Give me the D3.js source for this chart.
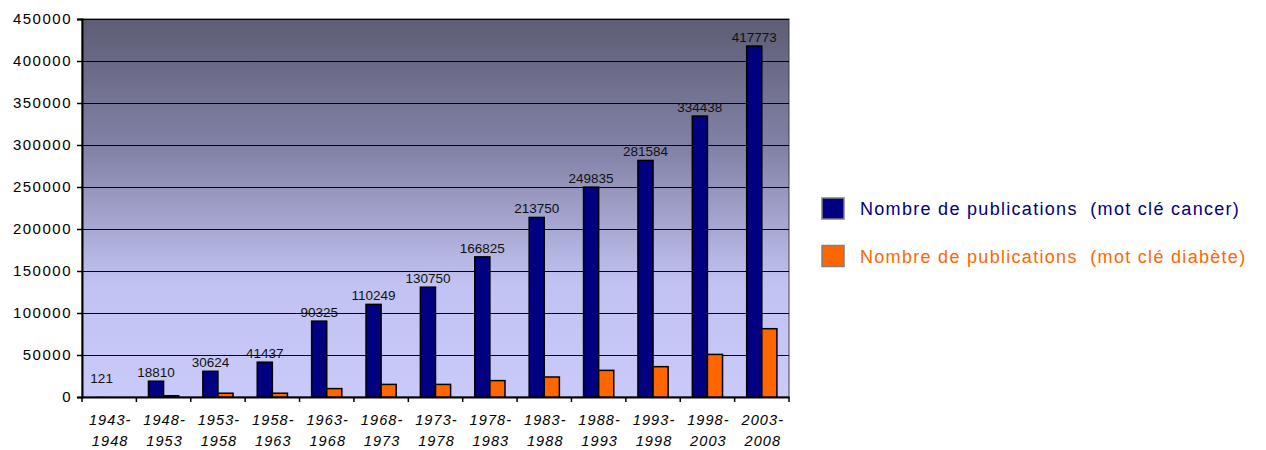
<!DOCTYPE html>
<html>
<head>
<meta charset="utf-8">
<script src="https://cdn.jsdelivr.net/npm/d3@7"></script>
<style>
  body { margin: 0; background: #fff; }
  svg { display: block; font-family: "Liberation Sans", Arial, sans-serif; }
</style>
</head>
<body>
<div id="chart"></div>
<script>
// periods (two lines each)
var periodsTop = ["1943-", "1948-", "1953-", "1958-", "1963-", "1968-", "1973-", "1978-", "1983-", "1988-", "1993-", "1998-", "2003-"];
var periodsBottom = ["1948", "1953", "1958", "1963", "1968", "1973", "1978", "1983", "1988", "1993", "1998", "2003", "2008"];

// publications with keyword "cancer"
var cancer = [121, 18810, 30624, 41437, 90325, 110249, 130750, 166825, 213750, 249835, 281584, 334438, 417773];
// publications with keyword "diabète"
var diabete = [0, 1500, 4500, 4500, 10000, 15000, 15000, 19500, 23800, 31700, 36100, 50700, 81300];

var yTicks = [0, 50000, 100000, 150000, 200000, 250000, 300000, 350000, 400000, 450000];

var seriesNames = ["Nombre de publications  (mot clé cancer)", "Nombre de publications  (mot clé diabète)"];
var seriesColors = ["#000080", "#ff6600"];
var seriesText = ["#000080", "#ff6600"];

var width = 1266;
var height = 450;
var margin = { left: 82, top: 19 };
var inner_width = 707;
var inner_height = 378;

var svg = d3.select("#chart")
  .append("svg")
  .attr("width", width)
  .attr("height", height);

// background gradient
var defs = svg.append("defs");
var grad = defs.append("linearGradient")
  .attr("id", "bg")
  .attr("x1", 0).attr("y1", 0)
  .attr("x2", 0).attr("y2", 1);
grad.append("stop").attr("offset", "0%").attr("stop-color", "#5d5d75");
grad.append("stop").attr("offset", "35%").attr("stop-color", "#8383a8");
grad.append("stop").attr("offset", "70%").attr("stop-color", "#c2c2f2");
grad.append("stop").attr("offset", "100%").attr("stop-color", "#cacafa");

var g = svg.append("g")
  .attr("transform", "translate(" + margin.left + "," + margin.top + ")");

var idx = d3.range(cancer.length);

var xscale = d3.scaleBand().domain(idx).range([0, inner_width]).padding(0);
var x1 = d3.scaleBand().domain([0, 1]).range([0, xscale.bandwidth()]).paddingInner(0).paddingOuter(0.8);
var yscale = d3.scaleLinear().domain([0, 450000]).range([inner_height, 0]);

// plot area
g.append("rect")
  .attr("x", 0)
  .attr("y", 0)
  .attr("width", inner_width)
  .attr("height", inner_height)
  .attr("fill", "url(#bg)")
  .attr("stroke", "#404040")
  .attr("stroke-width", 1);

// gridlines
g.selectAll(".grid")
  .data(yTicks.filter(function (d) { return d > 0; }))
  .enter()
  .append("line")
  .attr("x1", 0)
  .attr("x2", inner_width)
  .attr("y1", function (d) { return Math.round(yscale(d)) + 0.5; })
  .attr("y2", function (d) { return Math.round(yscale(d)) + 0.5; })
  .attr("stroke", "#000")
  .attr("stroke-width", 1);

// y axis
var yaxis = d3.axisLeft(yscale).tickValues(yTicks).tickSize(5).tickPadding(7).tickFormat(d3.format("d"));
var gy = g.append("g").call(yaxis);
gy.select(".domain").attr("stroke", "#000").attr("stroke-width", 2);
gy.selectAll(".tick line").attr("stroke", "#000").attr("stroke-width", 1.5);
gy.selectAll(".tick text")
  .attr("x", -10)
  .style("font-size", "15px")
  .style("letter-spacing", "1.5px")
  .attr("fill", "#000");

// x axis
var xaxis = d3.axisBottom(xscale).tickValues([]).tickSize(0);
var gx = g.append("g")
  .attr("transform", "translate(0," + inner_height + ")")
  .call(xaxis);
gx.select(".domain").attr("stroke", "#000").attr("stroke-width", 2);

// tick marks between categories
gx.selectAll(".sep")
  .data(d3.range(cancer.length + 1))
  .enter()
  .append("line")
  .attr("x1", function (d) { return d * xscale.step(); })
  .attr("x2", function (d) { return d * xscale.step(); })
  .attr("y1", 0)
  .attr("y2", 5)
  .attr("stroke", "#000")
  .attr("stroke-width", 1.5);

// category labels
var xl = gx.selectAll(".xlab")
  .data(idx)
  .enter()
  .append("text")
  .attr("text-anchor", "middle")
  .style("font-size", "14.5px")
  .style("font-style", "italic")
  .style("letter-spacing", "1.1px")
  .attr("fill", "#000");
xl.append("tspan")
  .attr("x", function (d) { return xscale(d) + xscale.bandwidth() / 2 + 1; })
  .attr("y", 28)
  .text(function (d) { return periodsTop[d]; });
xl.append("tspan")
  .attr("x", function (d) { return xscale(d) + xscale.bandwidth() / 2 + 1; })
  .attr("y", 49)
  .text(function (d) { return periodsBottom[d]; });

// bars
var rows = idx.map(function (i) { return [cancer[i], diabete[i]]; });

var groups = g.selectAll(".grp")
  .data(rows)
  .enter()
  .append("g")
  .attr("transform", function (d, i) { return "translate(" + xscale(i) + ",0)"; });

groups.selectAll("rect")
  .data(function (d) { return d; })
  .enter()
  .append("rect")
  .attr("x", function (d, j) { return x1(j); })
  .attr("y", function (d) { return yscale(d); })
  .attr("width", x1.bandwidth())
  .attr("height", function (d) { return inner_height - yscale(d); })
  .attr("fill", function (d, j) { return seriesColors[j]; })
  .attr("stroke", function (d) { return inner_height - yscale(d) < 1 ? "none" : "#000"; })
  .attr("stroke-width", 1.5);

// data labels for cancer series
g.selectAll(".dataLabel")
  .data(idx)
  .enter()
  .append("text")
  .attr("class", "dataLabel")
  .attr("x", function (i) { return xscale(i) + x1(0) + x1.bandwidth() / 2; })
  .attr("y", function (i) { return Math.min(yscale(cancer[i]) - 4, inner_height - 14); })
  .attr("text-anchor", "middle")
  .style("font-size", "13.5px")
  .attr("fill", "#111")
  .text(function (i) { return cancer[i]; });

// legend
var legend = svg.append("g").attr("transform", "translate(822,198)");
var li = legend.selectAll(".leg")
  .data(seriesNames)
  .enter()
  .append("g")
  .attr("transform", function (d, i) { return "translate(0," + i * 47.5 + ")"; });
li.append("rect")
  .attr("width", 22)
  .attr("height", 21)
  .attr("fill", function (d, i) { return seriesColors[i]; })
  .attr("stroke", "#808080")
  .attr("stroke-width", 1.5);
li.append("text")
  .attr("x", 38)
  .attr("y", 17)
  .style("font-size", "18px")
  .style("letter-spacing", "1.3px")
  .style("white-space", "pre")
  .attr("fill", function (d, i) { return seriesText[i]; })
  .text(function (d) { return d; });
</script>
</body>
</html>
